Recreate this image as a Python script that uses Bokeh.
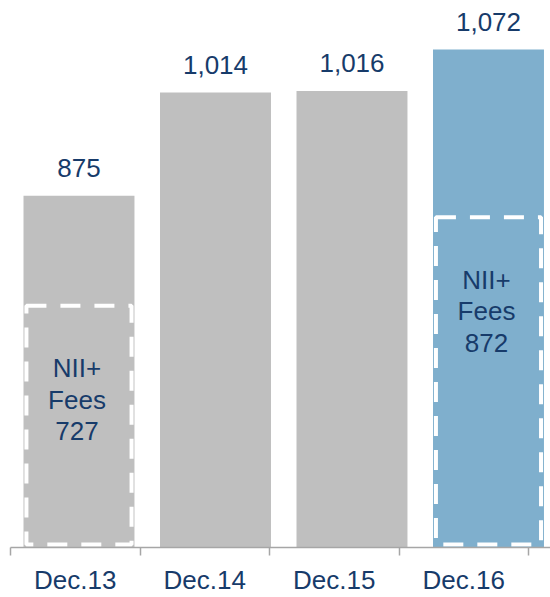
from bokeh.plotting import figure
from bokeh.models import Range1d, FixedTicker, CustomJSTickFormatter, LinearAxis
from bokeh.embed import file_html
from bokeh.resources import INLINE
from bokeh.core.properties import value

# ---- data ----
categories = ["Dec.13", "Dec.14", "Dec.15", "Dec.16"]
totals = [875, 1014, 1016, 1072]
total_labels = ["875", "1,014", "1,016", "1,072"]
bar_colors = ["#BFBFBF", "#BFBFBF", "#BFBFBF", "#7FAFCD"]
nii_idx = [0, 3]
nii_fees = [727, 872]
nii_labels = ["NII+\nFees\n727", "NII+\nFees\n872"]

# ---- layout / style ----
W, H = 550, 597
AXIS_H = 47
PX_PER_CAT = 136.5
TICK_PX = 129.5
X0 = -0.575
NAVY = "#173B6A"
FONT = value("Liberation Sans")
FSIZE = "26px"

xr = Range1d(X0, X0 + W / PX_PER_CAT)
yr = Range1d(400.8, 1138.1)

p = figure(width=W, height=H, x_range=xr, y_range=yr,
           output_backend="svg", toolbar_location=None,
           x_axis_location=None, y_axis_location=None,
           min_border=0, min_border_bottom=AXIS_H,
           outline_line_color=None, background_fill_color="white")
p.xgrid.visible = False
p.ygrid.visible = False
p.extra_y_ranges = {"nii": Range1d(331.1, 1227.2)}

idx = list(range(len(categories)))
p.vbar(x=idx, top=totals, bottom=yr.start, width=0.813,
       fill_color=bar_colors, line_color=None)

p.quad(left=[i - 0.385 for i in nii_idx], right=[i + 0.385 for i in nii_idx],
       top=nii_fees, bottom=336, y_range_name="nii",
       fill_color=None, line_color="white", line_width=4, line_dash="20 14")

p.text(x=idx, y=totals, text=total_labels, text_align="center",
       text_baseline="alphabetic", y_offset=-28,
       text_font=FONT, text_font_size=FSIZE, text_color=NAVY)

p.text(x=nii_idx, y=nii_fees, text=nii_labels, y_range_name="nii",
       text_align="center", text_baseline="middle", y_offset=94, x_offset=-2,
       text_line_height=1.05,
       text_font=FONT, text_font_size=FSIZE, text_color=NAVY)

# axis: labels centred between boundary ticks
bounds = [X0 + (10 + TICK_PX * k) / PX_PER_CAT for k in range(5)]
mids = [(bounds[k] + bounds[k + 1]) / 2 for k in range(4)]
ax = LinearAxis(ticker=FixedTicker(ticks=mids, minor_ticks=bounds),
                formatter=CustomJSTickFormatter(args=dict(labels=categories),
                                                code="return labels[index]"))
ax.bounds = (bounds[0], xr.end)
ax.axis_line_color = "#A6A6A6"
ax.axis_line_width = 1.5
ax.major_tick_line_color = None
ax.major_tick_out = 0
ax.major_tick_in = 0
ax.minor_tick_line_color = "#A6A6A6"
ax.minor_tick_line_width = 1.5
ax.minor_tick_out = 8
ax.minor_tick_in = 0
ax.major_label_standoff = 9
ax.major_label_text_font = "Liberation Sans"
ax.major_label_text_font_size = FSIZE
ax.major_label_text_color = NAVY
p.add_layout(ax, "below")

open("out.html", "w").write(file_html(p, INLINE))
